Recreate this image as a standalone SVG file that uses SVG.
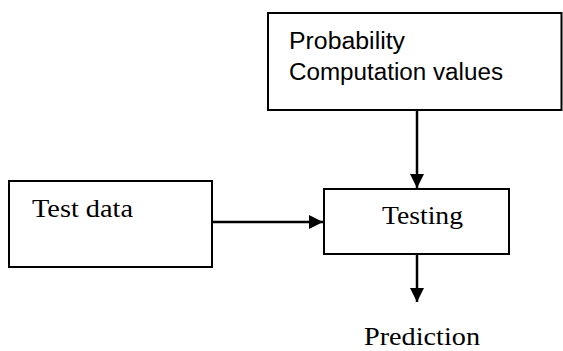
<svg xmlns="http://www.w3.org/2000/svg" width="563" height="351" viewBox="0 0 563 351">
  <style>
    .box { fill: #ffffff; stroke: #000000; stroke-width: 2; }
    .edge { fill: none; stroke: #000000; stroke-width: 2.5; }
    .sans { font-family: "Liberation Sans", Arial, sans-serif; font-size: 23px; fill: #000000; }
    .serif { font-family: "Liberation Serif", "Times New Roman", serif; font-size: 25px; fill: #000000; }
  </style>
  <defs>
    <marker id="arrow" markerUnits="userSpaceOnUse" markerWidth="16" markerHeight="16" viewBox="0 0 16 16" refX="15" refY="8" orient="auto">
      <path d="M1,1 L15,8 L1,15 Z" fill="#000000"/>
    </marker>
  </defs>
  <rect width="563" height="351" fill="#ffffff"/>

  <g id="probability">
    <rect class="box" x="268" y="13" width="293.5" height="97"/>
    <text class="sans" x="289" y="49" textLength="116" lengthAdjust="spacingAndGlyphs">Probability</text>
    <text class="sans" x="289" y="80" textLength="214" lengthAdjust="spacingAndGlyphs">Computation values</text>
  </g>

  <g id="test-data">
    <rect class="box" x="9" y="181" width="203" height="86"/>
    <text class="serif" x="32" y="217" textLength="101" lengthAdjust="spacingAndGlyphs">Test data</text>
  </g>

  <g id="testing">
    <rect class="box" x="324" y="189" width="185" height="65"/>
    <text class="serif" x="382" y="224" textLength="81" lengthAdjust="spacingAndGlyphs">Testing</text>
  </g>

  <g id="prediction">
    <text class="serif" x="364" y="345" textLength="116" lengthAdjust="spacingAndGlyphs">Prediction</text>
  </g>

  <g id="connectors">
    <path class="edge" d="M417,110 L417,188" marker-end="url(#arrow)"/>
    <path class="edge" d="M212,222 L323,222" marker-end="url(#arrow)"/>
    <path class="edge" d="M417,254 L417,302" marker-end="url(#arrow)"/>
  </g>
</svg>
